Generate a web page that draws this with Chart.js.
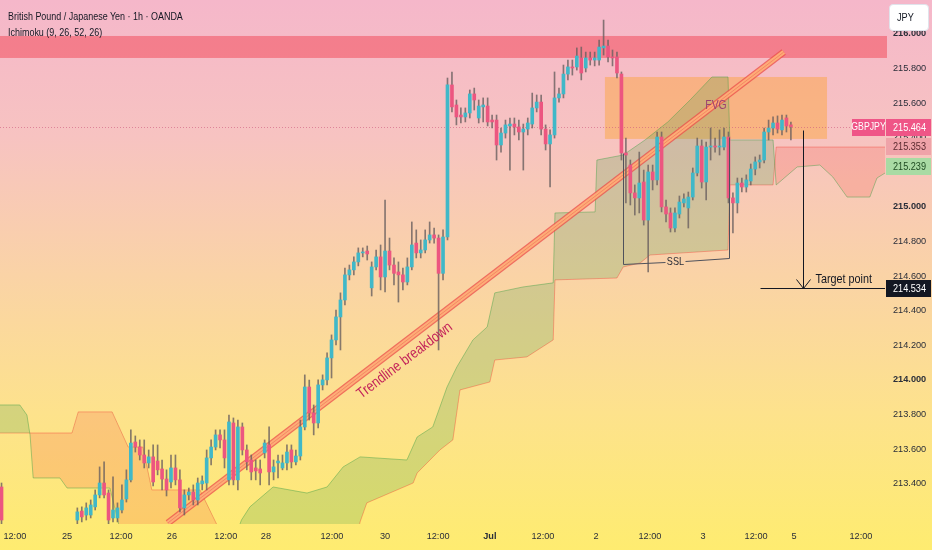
<!DOCTYPE html>
<html>
<head>
<meta charset="utf-8">
<script src="https://cdn.jsdelivr.net/npm/chart.js@4.4.1/dist/chart.umd.min.js"></script>
<style>
  html, body { margin: 0; padding: 0; background: #fbd6a4; }
  #wrap { position: relative; width: 932px; height: 550px; overflow: hidden; }
  #chart { position: absolute; left: 0; top: 0; }
  .hdr { position: absolute; left: 8px; color: #131722; white-space: nowrap; transform-origin: 0 50%; }
  #jpy { position: absolute; left: 889px; top: 4px; width: 40px; height: 27px; background: #fff;
         border: 1px solid #e0e3eb; border-radius: 4px; box-sizing: border-box; color: #131722;
         padding-left: 7px; }
  #jpy span { display: inline-block; transform-origin: 0 50%; line-height: 25px; }
</style>
</head>
<body>
<div id="wrap">
  <canvas id="chart" width="932" height="550"></canvas>
  <div class="hdr" id="title1" style="top:9px; line-height:14px">British Pound / Japanese Yen · 1h · OANDA</div>
  <div class="hdr" id="title2" style="top:25px; line-height:14px">Ichimoku (9, 26, 52, 26)</div>
  <div id="jpy"><span>JPY</span></div>
</div>
<script>
// GBPJPY 1h candles, index = bar number on the x axis (bars 1-16 are below the visible range)
const openP = [213.381, null, null, null, null, null, null, null, null, null,
  null, null, null, null, null, null, null, 213.190, 213.242, 213.219,
  213.219, 213.266, 213.335, 213.404, 213.346, 213.202, 213.202, 213.248, 213.312, 213.422,
  213.641, 213.612, 213.566, 213.520, 213.555, 213.531, 213.485, 213.427, 213.410, 213.491,
  213.422, 213.260, 213.335, 213.352, 213.306, 213.399, 213.404, 213.549, 213.612, 213.682,
  213.653, 213.422, 213.751, 213.422, 213.728, 213.595, 213.537, 213.491, 213.485, 213.578,
  213.624, 213.468, 213.520, 213.491, 213.520, 213.595, 213.526, 213.560, 213.728, 213.959,
  213.809, 213.751, 213.971, 214.000, 214.127, 214.231, 214.364, 214.462, 214.607, 214.636,
  214.682, 214.734, 214.745, 214.532, 214.653, 214.711, 214.595, 214.745, 214.664, 214.624,
  214.607, 214.566, 214.653, 214.791, 214.734, 214.751, 214.809, 214.838, 214.820, 214.616,
  214.826, 215.705, 215.589, 215.531, 215.520, 215.543, 215.653, 215.514, 215.578, 215.583,
  215.502, 215.502, 215.358, 215.427, 215.468, 215.479, 215.462, 215.433, 215.450, 215.479,
  215.572, 215.606, 215.450, 215.364, 215.416, 215.630, 215.653, 215.768, 215.809, 215.809,
  215.861, 215.803, 215.861, 215.849, 215.849, 215.919, 215.930, 215.867, 215.867, 215.768,
  215.312, 215.242, 215.081, 215.052, 215.144, 214.924, 215.202, 215.156, 215.404, 215.000,
  214.965, 214.878, 214.959, 215.023, 214.994, 215.057, 215.196, 215.352, 215.144, 215.346,
  215.352, 215.346, 215.346, 215.404, 215.052, 215.023, 215.138, 215.115, 215.150, 215.219,
  215.260, 215.271, 215.433, 215.456, 215.485, 215.445, 215.514, 215.474];
const highP = [213.404, null, null, null, null, null, null, null, null, null,
  null, null, null, null, null, null, null, 213.260, 213.266, 213.289,
  213.306, 213.364, 213.497, 213.526, 213.364, 213.439, 213.289, 213.393, 213.480, 213.711,
  213.676, 213.653, 213.653, 213.595, 213.624, 213.624, 213.537, 213.480, 213.566, 213.566,
  213.480, 213.364, 213.375, 213.393, 213.433, 213.445, 213.595, 213.653, 213.711, 213.711,
  213.711, 213.797, 213.780, 213.768, 213.751, 213.624, 213.566, 213.537, 213.537, 213.653,
  213.728, 213.537, 213.566, 213.566, 213.624, 213.624, 213.595, 213.768, 214.029, 213.999,
  213.855, 214.000, 214.029, 214.156, 214.260, 214.404, 214.503, 214.647, 214.664, 214.711,
  214.763, 214.763, 214.774, 214.682, 214.751, 214.780, 215.040, 214.820, 214.705, 214.682,
  214.647, 214.705, 214.913, 214.867, 214.809, 214.867, 214.913, 214.878, 214.838, 214.867,
  215.745, 215.780, 215.618, 215.572, 215.572, 215.676, 215.687, 215.618, 215.630, 215.630,
  215.531, 215.531, 215.456, 215.502, 215.514, 215.514, 215.502, 215.479, 215.514, 215.658,
  215.647, 215.647, 215.474, 215.445, 215.780, 215.687, 215.820, 215.849, 215.849, 215.919,
  215.924, 215.895, 215.895, 215.895, 215.965, 216.080, 215.965, 215.907, 215.895, 215.780,
  215.398, 215.271, 215.127, 215.317, 215.213, 215.242, 215.242, 215.433, 215.433, 215.040,
  214.994, 214.994, 215.063, 215.075, 215.086, 215.225, 215.398, 215.387, 215.375, 215.456,
  215.398, 215.445, 215.456, 215.433, 215.081, 215.167, 215.167, 215.185, 215.248, 215.289,
  215.300, 215.456, 215.502, 215.520, 215.526, 215.531, 215.531, 215.491];
const lowP = [213.167, null, null, null, null, null, null, null, null, null,
  null, null, null, null, null, null, null, 213.156, 213.179, 213.190,
  213.202, 213.248, 213.318, 213.318, 213.167, 213.179, 213.179, 213.231, 213.294, 213.410,
  213.583, 213.537, 213.491, 213.491, 213.387, 213.451, 213.364, 213.329, 213.375, 213.393,
  213.237, 213.219, 213.306, 213.277, 213.277, 213.364, 213.364, 213.508, 213.595, 213.607,
  213.491, 213.393, 213.393, 213.364, 213.566, 213.480, 213.422, 213.422, 213.393, 213.549,
  213.393, 213.422, 213.433, 213.480, 213.480, 213.491, 213.508, 213.537, 213.711, 213.768,
  213.682, 213.722, 213.942, 213.971, 214.011, 214.202, 214.173, 214.433, 214.578, 214.607,
  214.659, 214.711, 214.693, 214.485, 214.636, 214.520, 214.508, 214.636, 214.549, 214.450,
  214.520, 214.549, 214.636, 214.705, 214.705, 214.734, 214.791, 214.791, 214.173, 214.578,
  214.809, 215.549, 215.474, 215.485, 215.491, 215.514, 215.560, 215.485, 215.491, 215.468,
  215.456, 215.271, 215.317, 215.398, 215.213, 215.416, 215.387, 215.213, 215.416, 215.456,
  215.549, 215.416, 215.329, 215.115, 215.398, 215.606, 215.630, 215.734, 215.762, 215.791,
  215.734, 215.780, 215.820, 215.815, 215.820, 215.878, 215.838, 215.815, 215.745, 215.271,
  215.023, 215.011, 214.953, 214.965, 214.895, 214.624, 215.098, 215.127, 214.971, 214.913,
  214.855, 214.855, 214.936, 215.000, 214.878, 215.040, 215.179, 215.109, 215.040, 215.271,
  215.317, 215.300, 215.329, 215.023, 214.849, 214.965, 215.086, 215.086, 215.127, 215.185,
  215.225, 215.254, 215.387, 215.416, 215.427, 215.416, 215.433, 215.387];
const closeP = [213.190, null, null, null, null, null, null, null, null, null,
  null, null, null, null, null, null, null, 213.237, 213.208, 213.260,
  213.277, 213.335, 213.404, 213.335, 213.190, 213.248, 213.260, 213.306, 213.422, 213.635,
  213.612, 213.566, 213.520, 213.555, 213.410, 213.480, 213.427, 213.364, 213.491, 213.422,
  213.260, 213.335, 213.352, 213.306, 213.404, 213.416, 213.549, 213.612, 213.682, 213.653,
  213.549, 213.757, 213.422, 213.728, 213.595, 213.526, 213.468, 213.474, 213.462, 213.635,
  213.468, 213.497, 213.531, 213.520, 213.583, 213.526, 213.560, 213.728, 213.959, 213.809,
  213.751, 213.971, 214.000, 214.127, 214.231, 214.364, 214.462, 214.607, 214.636, 214.682,
  214.734, 214.739, 214.728, 214.653, 214.711, 214.595, 214.745, 214.664, 214.616, 214.607,
  214.566, 214.653, 214.780, 214.734, 214.751, 214.809, 214.838, 214.820, 214.616, 214.826,
  215.705, 215.578, 215.520, 215.520, 215.543, 215.653, 215.618, 215.583, 215.589, 215.491,
  215.491, 215.358, 215.427, 215.474, 215.479, 215.462, 215.433, 215.450, 215.485, 215.572,
  215.606, 215.450, 215.364, 215.416, 215.630, 215.653, 215.768, 215.809, 215.803, 215.872,
  215.774, 215.861, 215.849, 215.861, 215.924, 215.930, 215.867, 215.861, 215.774, 215.312,
  215.300, 215.081, 215.052, 215.138, 214.924, 215.202, 215.156, 215.404, 215.000, 214.959,
  214.878, 214.965, 215.028, 215.046, 215.057, 215.196, 215.352, 215.144, 215.346, 215.352,
  215.346, 215.352, 215.404, 215.052, 215.023, 215.138, 215.115, 215.156, 215.219, 215.260,
  215.271, 215.433, 215.456, 215.485, 215.450, 215.502, 215.468, 215.464];

// Ichimoku leading spans (bar positions, already shifted 26 bars ahead)
const spanAx = [-0.5, 4.1, 5.7, 6.4, 7.1, 13.1, 14.7, 24.3, 26.6, 53.0, 53.8, 55.7, 60.9, 68.5, 73.0,
  76.6, 80.4, 90.9, 93.2, 96.7, 99.9, 102.1, 105.7, 108.9, 110.6, 116.9, 123.7, 124.1, 133.1, 133.5,
  139.4, 144.3, 149.4, 154.4, 159.3, 162.9, 163.3, 173.0, 173.7, 178.4, 183.5, 186.4, 189.6, 194.7,
  196.3, 198.5];
const spanA = [213.855, 213.855, 213.797, 213.682, 213.433, 213.433, 213.375, 213.375, 213.133, 213.133,
  213.190, 213.266, 213.381, 213.346, 213.381, 213.497, 213.555, 213.537, 213.670, 213.728, 213.959,
  214.075, 214.231, 214.306, 214.503, 214.537, 214.561, 214.965, 214.971, 215.271, 215.300, 215.387,
  215.491, 215.618, 215.751, 215.751, 215.387, 215.387, 215.127, 215.231, 215.242, 215.173, 215.057,
  215.057, 215.167, 215.202];
const spanBx = [-0.5, 15.8, 17.2, 24.8, 28.4, 31.7, 33.7, 44.5, 49.4, 54.0, 79.0, 80.4, 81.9, 92.3,
  93.2, 98.3, 101.2, 102.8, 109.5, 110.6, 117.8, 123.7, 124.1, 138.0, 139.4, 143.2, 145.4, 162.9,
  163.3, 173.0, 173.7, 198.5];
const spanB = [213.693, 213.693, 213.815, 213.815, 213.612, 213.612, 213.364, 213.364, 213.104, 213.0,
  213.0, 213.179, 213.289, 213.404, 213.462, 213.595, 213.653, 213.942, 213.988, 214.115, 214.133,
  214.231, 214.578, 214.589, 214.653, 214.676, 214.722, 214.751, 215.127, 215.127, 215.346, 215.346];

// drawings
const trendX = [37.3, 175.4];
const trendY = [213.173, 215.895];
const zoneY = [215.988, 215.861];            // resistance band
const fvgX = [135.3, 185.1];
const fvgY = [215.751, 215.393];
const sslX = [139.4, 139.4, 148.8, 153.2, 163.1, 163.1];
const sslY = [215.312, 214.670, 214.682, 214.688, 214.705, 215.404];
const targetX = 179.7;
const targetFrom = 215.445;
const targetPrice = 214.534;
const targetLineX = [170.1, 198.1];
const lastPrice = 215.464;
const leadBNow = 215.353;
const leadANow = 215.239;

// axes
const priceTicks = [213.4, 213.6, 213.8, 214.0, 214.2, 214.4, 214.6, 214.8, 215.0, 215.2, 215.4, 215.6, 215.8, 216.0];
const xTickPos = [3.0, 14.7, 26.8, 38.2, 50.3, 59.3, 74.1, 86.0, 97.9, 109.5, 121.4, 133.3, 145.4, 157.3, 169.2, 177.7, 192.7];
const xTickLabels = ['12:00', '25', '12:00', '26', '12:00', '28', '12:00', '30', '12:00', 'Jul', '12:00', '2', '12:00', '3', '12:00', '5', '12:00'];

const UP = '#40b8c8', DOWN = '#ec5680', WICK = 'rgba(105,95,95,0.8)';

// regular face; our own texts get squeezed sideways to the narrow look of the original
const FONT = '"Liberation Sans", Arial, sans-serif';
const SQ = 0.83;
const fz = n => Math.round(n * 0.84 * 10) / 10;   // axis labels cannot be squeezed, so shrink them

document.querySelectorAll('.hdr').forEach(el => {
    el.style.fontFamily = FONT;
    el.style.fontSize = '10.8px';
    el.style.transform = 'scaleX(' + SQ + ')';
});
const jpy = document.querySelector('#jpy span');
jpy.style.fontFamily = FONT;
jpy.style.fontSize = '11px';
jpy.style.transform = 'scaleX(' + SQ + ')';
Chart.defaults.font.family = FONT;

// squeezed canvas text
function text(ctx, str, x, y, size, color, align, weight) {
    ctx.save();
    ctx.font = (weight || 'normal') + ' ' + size + 'px ' + FONT;
    ctx.fillStyle = color;
    ctx.textAlign = align || 'left';
    ctx.textBaseline = 'middle';
    ctx.translate(x, y);
    ctx.scale(SQ, 1);
    ctx.fillText(str, 0, 0);
    ctx.restore();
}

const bars = [];
openP.forEach((o, i) => { if (o !== null) bars.push(i); });
const wickData = bars.map(i => ({x: i, y: [lowP[i], highP[i]]}));
const bodyData = bars.map(i => ({x: i, y: [openP[i], closeP[i]]}));
const bodyColors = bars.map(i => closeP[i] >= openP[i] ? UP : DOWN);
const trendData = trendX.map((x, k) => ({x, y: trendY[k]}));

const decor = {
    id: 'decor',
    beforeDraw(chart) {
        const {ctx, width, height} = chart;
        const g = ctx.createLinearGradient(0, 0, 0, height);
        g.addColorStop(0, '#f5b7ca');
        g.addColorStop(0.25, '#f7c3c1');
        g.addColorStop(0.5, '#fad3a6');
        g.addColorStop(0.75, '#fde28c');
        g.addColorStop(1, '#feec70');
        ctx.save();
        ctx.fillStyle = g;
        ctx.fillRect(0, 0, width, height);
        ctx.restore();
    },
    beforeDatasetsDraw(chart) {
        const {ctx, chartArea: a, scales: {x, y}} = chart;
        ctx.save();
        // resistance band
        const z1 = y.getPixelForValue(zoneY[0]), z2 = y.getPixelForValue(zoneY[1]);
        ctx.fillStyle = 'rgba(242,54,69,0.45)';
        ctx.fillRect(a.left, z1, a.right + 2 - a.left, z2 - z1);
        // fair value gap
        const fx1 = x.getPixelForValue(fvgX[0]), fx2 = x.getPixelForValue(fvgX[1]);
        const fy1 = y.getPixelForValue(fvgY[0]), fy2 = y.getPixelForValue(fvgY[1]);
        ctx.fillStyle = 'rgba(255,152,0,0.33)';
        ctx.fillRect(fx1, fy1, fx2 - fx1, fy2 - fy1);
        // last price line
        const ly = Math.round(y.getPixelForValue(lastPrice)) + 0.5;
        ctx.strokeStyle = 'rgba(205,90,125,0.6)';
        ctx.lineWidth = 1;
        ctx.setLineDash([1, 2]);
        ctx.beginPath();
        ctx.moveTo(a.left, ly);
        ctx.lineTo(a.right, ly);
        ctx.stroke();
        ctx.restore();
    },
    afterDatasetsDraw(chart) {
        const {ctx, chartArea: a, scales: {x, y}} = chart;
        const X = v => Math.round(x.getPixelForValue(v)) + 0.5;
        const Y = v => Math.round(y.getPixelForValue(v)) + 0.5;
        ctx.save();

        // SSL bracket
        ctx.strokeStyle = '#4f525c';
        ctx.lineWidth = 1;
        ctx.beginPath();
        ctx.moveTo(X(sslX[0]), Y(sslY[0]));
        ctx.lineTo(X(sslX[1]), Y(sslY[1]));
        ctx.lineTo(X(sslX[2]), Y(sslY[2]));
        ctx.moveTo(X(sslX[3]), Y(sslY[3]));
        ctx.lineTo(X(sslX[4]), Y(sslY[4]));
        ctx.lineTo(X(sslX[5]), Y(sslY[5]));
        ctx.stroke();
        text(ctx, 'SSL', (X(sslX[2]) + X(sslX[3])) / 2, (Y(sslY[2]) + Y(sslY[3])) / 2, 11, '#2a2e39', 'center');

        // target arrow
        const tx = X(targetX), ty = Y(targetPrice);
        ctx.strokeStyle = '#131722';
        ctx.beginPath();
        ctx.moveTo(tx, Y(targetFrom));
        ctx.lineTo(tx, ty);
        ctx.moveTo(tx - 7, ty - 9);
        ctx.lineTo(tx, ty);
        ctx.lineTo(tx + 7, ty - 9);
        ctx.moveTo(X(targetLineX[0]), ty);
        ctx.lineTo(Math.min(X(targetLineX[1]), a.right), ty);
        ctx.stroke();
        text(ctx, 'Target point', tx + 12, ty - 9, 13, '#131722', 'left', '500');

        // FVG label
        text(ctx, 'FVG', x.getPixelForValue(160.2), y.getPixelForValue(215.583), 12.5, '#9c4170', 'center');

        // trendline caption
        const p1x = x.getPixelForValue(trendX[0]), p1y = y.getPixelForValue(trendY[0]);
        const p2x = x.getPixelForValue(trendX[1]), p2y = y.getPixelForValue(trendY[1]);
        const ang = Math.atan2(p2y - p1y, p2x - p1x);
        const t = 0.37, off = 15;
        const cx = p1x + (p2x - p1x) * t - Math.sin(ang) * off;
        const cy = p1y + (p2y - p1y) * t + Math.cos(ang) * off;
        ctx.translate(cx, cy);
        ctx.rotate(ang);
        text(ctx, 'Trendline breakdown', 0, 0, 15, '#c4245a', 'center');
        ctx.restore();
    },
    afterDraw(chart) {
        const {ctx, chartArea: a, scales: {y}} = chart;
        ctx.save();
        const tag = (v, bg, fg) => {
            const cy = Math.round(y.getPixelForValue(v));
            ctx.fillStyle = bg;
            ctx.fillRect(a.right + 1, cy - 8, 45, 17);
            text(ctx, v.toFixed(3), a.right + 8, cy + 0.5, 11, fg, 'left');
            return cy;
        };
        tag(leadBNow, '#efa3a9', '#5c2a30');
        tag(leadANow, '#a9dba4', '#1f4d22');
        const ly = tag(lastPrice, '#ef5587', '#ffffff');
        tag(targetPrice, '#131722', '#ffffff');
        // symbol tag next to the last price
        ctx.fillStyle = '#ef5587';
        ctx.fillRect(a.right - 33, ly - 8, 33, 17);
        text(ctx, 'GBPJPY', a.right - 16.5, ly + 0.5, 10.5, '#ffffff', 'center');
        ctx.restore();
    }
};

new Chart(document.getElementById('chart'), {
    type: 'bar',
    data: {
        datasets: [
            {
                type: 'line', label: 'Lead 1',
                data: spanAx.map((x, k) => ({x, y: spanA[k]})),
                borderColor: 'rgba(67,160,71,0.45)', borderWidth: 1, pointRadius: 0, tension: 0,
                fill: {target: 1, above: 'rgba(67,160,71,0.22)', below: 'rgba(244,67,54,0.18)'},
                order: 10
            },
            {
                type: 'line', label: 'Lead 2',
                data: spanBx.map((x, k) => ({x, y: spanB[k]})),
                borderColor: 'rgba(244,67,54,0.4)', borderWidth: 1, pointRadius: 0, tension: 0,
                fill: false, order: 10
            },
            { type: 'line', data: trendData, borderColor: 'rgba(236,84,78,0.8)', borderWidth: 7, pointRadius: 0, fill: false, order: 6 },
            { type: 'line', data: trendData, borderColor: 'rgba(255,178,120,0.92)', borderWidth: 4.5, pointRadius: 0, fill: false, order: 5 },
            { type: 'line', data: trendData, borderColor: 'rgba(236,110,90,0.6)', borderWidth: 1, pointRadius: 0, fill: false, order: 4 },
            { type: 'bar', data: wickData, backgroundColor: WICK, barThickness: 1, grouped: false, order: 2 },
            { type: 'bar', data: bodyData, backgroundColor: bodyColors, barThickness: 3, grouped: false, minBarLength: 1, order: 1 }
        ]
    },
    options: {
        responsive: false,
        animation: false,
        devicePixelRatio: 1,
        layout: { padding: 0 },
        plugins: { legend: { display: false }, tooltip: { enabled: false } },
        scales: {
            x: {
                type: 'linear', min: -0.34, max: 198.1, offset: false,
                grid: { display: false, drawTicks: false },
                border: { display: false },
                afterBuildTicks: s => { s.ticks = xTickPos.map(v => ({value: v})); },
                afterFit: s => { s.height = 26; s.paddingLeft = 0; s.paddingRight = 0; },
                ticks: {
                    autoSkip: false, maxRotation: 0, padding: 7, color: '#2a2e39',
                    font: c => ({ size: fz(11), weight: xTickLabels[c.index] === 'Jul' ? 'bold' : 'normal' }),
                    callback: (v, i) => xTickLabels[i]
                }
            },
            y: {
                position: 'right', min: 213.167, max: 216.196,
                grid: { display: false, drawTicks: false },
                border: { display: false },
                afterBuildTicks: s => { s.ticks = priceTicks.map(v => ({value: v})); },
                afterFit: s => { s.width = 47; s.paddingTop = 0; s.paddingBottom = 0; },
                ticks: {
                    padding: 8, color: '#2a2e39',
                    font: c => ({ size: fz(11), weight: (c.tick && Math.abs(c.tick.value - Math.round(c.tick.value)) < 1e-6) ? 'bold' : 'normal' }),
                    callback: v => Number(v).toFixed(3)
                }
            }
        }
    },
    plugins: [decor]
});
</script>
</body>
</html>
